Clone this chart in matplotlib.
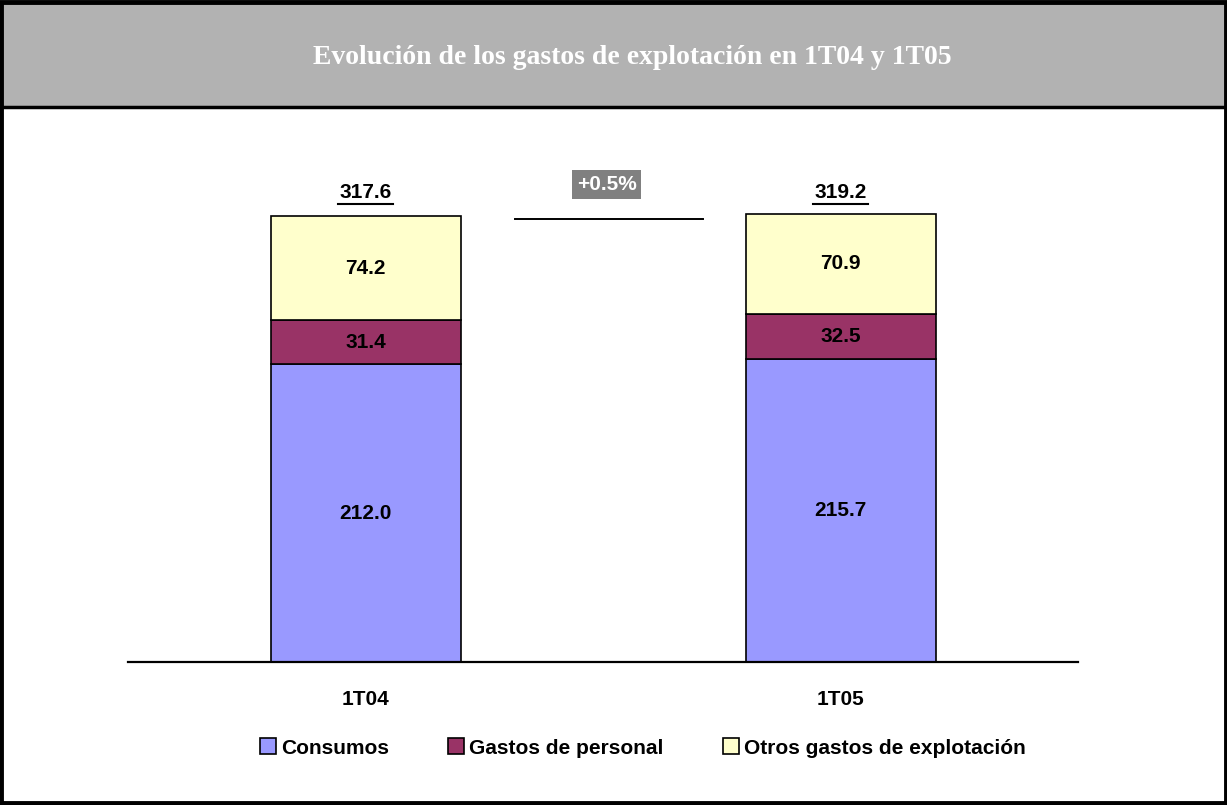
import matplotlib.pyplot as plt
from matplotlib.patches import Rectangle, Patch

plt.rcParams["font.family"] = ["Liberation Sans", "DejaVu Sans"]

categories = ["1T04", "1T05"]
consumos = [212.0, 215.7]
personal = [31.4, 32.5]
otros = [74.2, 70.9]
totals = [317.6, 319.2]
growth_label = "+0.5%"
series_names = ["Consumos", "Gastos de personal", "Otros gastos de explotación"]
colors = ["#9999FF", "#993366", "#FFFFCC"]
title = "Evolución de los gastos de explotación en 1T04 y 1T05"

W, H = 1227, 805
fig = plt.figure(figsize=(W / 100, H / 100), dpi=100)

# header band and outer frame
fig.patches.append(Rectangle((0, 1 - 107 / H), 1, 107 / H, transform=fig.transFigure,
                             facecolor="#B2B2B2", edgecolor="none", zorder=0))
fig.lines.append(plt.Line2D([0, 1], [1 - 107 / H] * 2, transform=fig.transFigure,
                            color="black", lw=2.5))
fig.patches.append(Rectangle((0.001, 0.002), 0.998, 0.996, transform=fig.transFigure,
                             facecolor="none", edgecolor="black", lw=3.5, zorder=5))
fig.text(632 / W, 1 - 57 / H, title, ha="center", va="center", color="white",
         fontsize=20, fontweight="bold", family="Liberation Serif")

# axes: baseline at y=662 px, x from 128 to 1078 px
ax_top = 120
ax = fig.add_axes([128 / W, 1 - 662 / H, 950 / W, (662 - ax_top) / H])
ymax = (662 - ax_top) / 1.404
ax.set_xlim(-0.5, 1.5)
ax.set_ylim(0, ymax)
for s in ["top", "right", "left"]:
    ax.spines[s].set_visible(False)
ax.spines["bottom"].set_linewidth(1.6)
ax.set_yticks([])
ax.set_xticks([])

x = list(range(len(categories)))
width = 0.4
bottom = [0.0] * len(x)
for vals, name, c in zip([consumos, personal, otros], series_names, colors):
    ax.bar(x, vals, width, bottom=bottom, color=c, edgecolor="black", lw=1.2, label=name)
    for xi, b, v in zip(x, bottom, vals):
        ax.text(xi, b + v / 2, f"{v:.1f}", ha="center", va="center",
                fontsize=15, fontweight="bold")
    bottom = [b + v for b, v in zip(bottom, vals)]

# totals are anchored to the first bar's top so both sit on one line as in the source
for xi, t in zip(x, totals):
    ax.text(xi, totals[0] + 17, f"{t:.1f}", ha="center", va="center", fontsize=15, fontweight="bold")
    ax.plot([xi - 0.057, xi + 0.057], [totals[0] + 8.5] * 2, color="black", lw=1.5, clip_on=False)

for xi, c in zip(x, categories):
    ax.text(xi, -27, c, ha="center", va="center", fontsize=15, fontweight="bold", clip_on=False)

# growth bracket
ax.plot([0.314, 0.711], [315.5, 315.5], color="black", lw=1.4)
ax.text(0.508, 340, growth_label, ha="center", va="center", color="white", fontsize=15,
        fontweight="bold", bbox=dict(facecolor="#808080", edgecolor="none", pad=3.5))

handles = [Patch(facecolor=c, edgecolor="black", lw=1.2, label=n) for c, n in zip(colors, series_names)]
fig.legend(handles=handles, loc="center", bbox_to_anchor=(643 / W, 1 - 748 / H), ncol=3,
           frameon=False, handlelength=0.77, handleheight=0.77, handletextpad=0.24,
           columnspacing=2.85, prop=dict(weight="bold", size=15))

fig.savefig("out.png", dpi=100)
